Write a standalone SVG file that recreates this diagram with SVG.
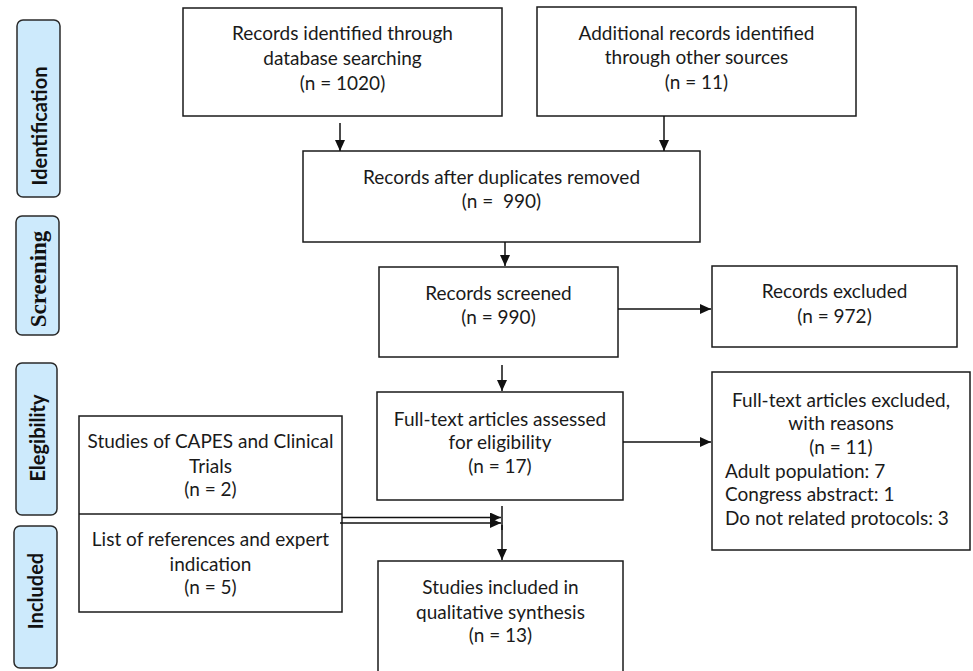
<svg xmlns="http://www.w3.org/2000/svg" width="973" height="671" viewBox="0 0 973 671">
<defs>
<marker id="ah" markerWidth="12" markerHeight="10" refX="11" refY="5" orient="auto" markerUnits="userSpaceOnUse">
<path d="M0,0 L11,5 L0,10 Z" fill="#111"/>
</marker>
<style>
.box{fill:#fff;stroke:#1a1a1a;stroke-width:1.5}
.lab{fill:#cdeafc;stroke:#2a2a2a;stroke-width:1.5}
.t{font-family:Lato,"Liberation Sans",sans-serif;font-size:19px;fill:#1a1a1a;text-anchor:middle}
.tl{font-family:Lato,"Liberation Sans",sans-serif;font-size:19px;fill:#1a1a1a}
.s{font-family:Lato,"Liberation Sans",sans-serif;font-size:20px;font-weight:bold;fill:#111;text-anchor:middle}
.sr{font-family:"Liberation Serif",serif;font-size:23px;font-weight:bold;fill:#111;text-anchor:middle}
.c{stroke:#111;stroke-width:1.5;fill:none;marker-end:url(#ah)}
</style>
</defs>
<rect width="973" height="671" fill="#fff"/>

<g id="lab-identification">
<rect class="lab" x="17" y="20" width="43" height="177" rx="6"/>
<text class="s" transform="translate(47,126) rotate(-90)">Identification</text>
</g>
<g id="lab-screening">
<rect class="lab" x="16" y="216" width="43" height="119" rx="6"/>
<text class="sr" transform="translate(46,279) rotate(-90)">Screening</text>
</g>
<g id="lab-elegibility">
<rect class="lab" x="16" y="363" width="41" height="152" rx="6"/>
<text class="s" transform="translate(45,438) rotate(-90)">Elegibility</text>
</g>
<g id="lab-included">
<rect class="lab" x="14" y="526" width="43" height="142" rx="6"/>
<text class="s" transform="translate(43,591) rotate(-90)">Included</text>
</g>

<g id="n-db">
<rect class="box" x="183" y="8" width="319" height="108"/>
<text class="t" x="342.5" y="40">Records identified through</text>
<text class="t" x="342.5" y="65">database searching</text>
<text class="t" x="342.5" y="90">(n = 1020)</text>
</g>
<g id="n-other">
<rect class="box" x="537" y="7" width="319" height="109"/>
<text class="t" x="696.5" y="40">Additional records identified</text>
<text class="t" x="696.5" y="64">through other sources</text>
<text class="t" x="696.5" y="89">(n = 11)</text>
</g>
<g id="n-dup">
<rect class="box" x="303" y="151" width="397" height="91"/>
<text class="t" x="501.5" y="184">Records after duplicates removed</text>
<text class="t" x="501.5" y="208" xml:space="preserve">(n =  990)</text>
</g>
<g id="n-screened">
<rect class="box" x="379" y="267" width="239" height="90"/>
<text class="t" x="498.5" y="300">Records screened</text>
<text class="t" x="498.5" y="324">(n = 990)</text>
</g>
<g id="n-excluded">
<rect class="box" x="712" y="266" width="245" height="81"/>
<text class="t" x="834.5" y="298">Records excluded</text>
<text class="t" x="834.5" y="323">(n = 972)</text>
</g>
<g id="n-fulltext">
<rect class="box" x="377" y="392" width="246" height="108"/>
<text class="t" x="500" y="426">Full-text articles assessed</text>
<text class="t" x="500" y="449">for eligibility</text>
<text class="t" x="500" y="473">(n = 17)</text>
</g>
<g id="n-ftexcluded">
<rect class="box" x="712" y="372" width="258" height="178"/>
<text class="t" x="841" y="407">Full-text articles excluded,</text>
<text class="t" x="841" y="430">with reasons</text>
<text class="t" x="841" y="454">(n = 11)</text>
<text class="tl" x="725" y="478">Adult population: 7</text>
<text class="tl" x="725" y="501">Congress abstract: 1</text>
<text class="tl" x="725" y="525">Do not related protocols: 3</text>
</g>
<g id="n-other-studies">
<rect class="box" x="79" y="416" width="263" height="196"/>
<line x1="79" y1="514" x2="342" y2="514" stroke="#1a1a1a" stroke-width="1.5"/>
<text class="t" x="210.5" y="448">Studies of CAPES and Clinical</text>
<text class="t" x="210.5" y="473">Trials</text>
<text class="t" x="210.5" y="496">(n = 2)</text>
<text class="t" x="210.5" y="546">List of references and expert</text>
<text class="t" x="210.5" y="571">indication</text>
<text class="t" x="210.5" y="594">(n = 5)</text>
</g>
<g id="n-included">
<rect class="box" x="378" y="561" width="245" height="130"/>
<text class="t" x="500.5" y="594">Studies included in</text>
<text class="t" x="500.5" y="619">qualitative synthesis</text>
<text class="t" x="500.5" y="642">(n = 13)</text>
</g>

<g id="connectors">
<line class="c" x1="340" y1="123" x2="340" y2="151"/>
<line class="c" x1="664" y1="116" x2="664" y2="151"/>
<line class="c" x1="505" y1="242" x2="505" y2="266"/>
<line class="c" x1="618" y1="309" x2="711" y2="309"/>
<line class="c" x1="502" y1="365" x2="502" y2="391"/>
<line class="c" x1="623" y1="442" x2="711" y2="442"/>
<line class="c" x1="342" y1="517.5" x2="501" y2="517.5"/>
<line class="c" x1="340" y1="523" x2="501" y2="523"/>
<line x1="502" y1="506" x2="502" y2="530" stroke="#111" stroke-width="1.5"/>
<line class="c" x1="502" y1="525" x2="502" y2="560"/>
</g>
</svg>
